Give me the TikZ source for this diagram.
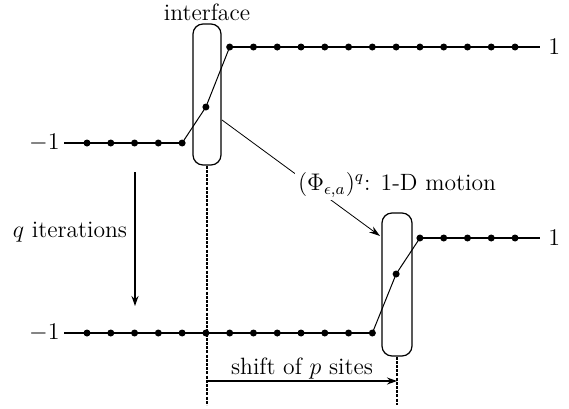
\documentclass[tikz,border=0pt]{standalone}
\usetikzlibrary{arrows.meta}
\begin{document}
\begin{tikzpicture}[x=0.5pt,y=-0.5pt,
  txt/.style={font=\fontsize{11.8}{14}\selectfont, inner sep=1pt},
  site/.style={circle, fill=black, inner sep=0pt, minimum size=3.5pt},
  thickline/.style={line width=1.2pt},
  thinline/.style={line width=0.5pt},
  iface/.style={draw, line width=0.6pt, rounded corners=5pt, inner sep=0pt},
  guide/.style={line width=0.7pt, dash pattern=on 1.5pt off 0.6pt},
  arr/.style={line width=0.7pt, -{Stealth[length=5pt,width=3.5pt]}},
  thinarr/.style={line width=0.4pt, -{Stealth[length=5.5pt,width=3.5pt]}}]
\useasboundingbox (0,0) rectangle (569,408);
% interface boxes
\node[iface, minimum width=14pt, minimum height=70.5pt] (box1) at (207,94.5) {};
\node[iface, minimum width=15pt, minimum height=71.5pt] (box2) at (397,284.5) {};
% top configuration
\coordinate (a-start) at (64,143);
\coordinate (a-end) at (540,47);
\foreach \i in {0,...,18}{
  \pgfmathsetmacro{\xx}{87+23.78*\i}
  \ifnum\i<5 \def\yy{143}\else\ifnum\i=5 \def\yy{107}\else\def\yy{47}\fi\fi
  \coordinate (a\i) at (\xx,\yy);
}
\draw[thickline] (a-start) -- (a4);
\draw[thinline] (a4) -- (a5) -- (a6);
\draw[thickline] (a6) -- (a-end);
\foreach \i in {0,...,18}{ \node[site] (ad\i) at (a\i) {}; }
% bottom configuration
\coordinate (b-start) at (64,333);
\coordinate (b-end) at (540,238);
\foreach \i in {0,...,18}{
  \pgfmathsetmacro{\xx}{87+23.78*\i}
  \ifnum\i<13 \def\yy{333}\else\ifnum\i=13 \def\yy{274}\else\def\yy{238}\fi\fi
  \coordinate (b\i) at (\xx,\yy);
}
\draw[thickline] (b-start) -- (b12);
\draw[thinline] (b12) -- (b13) -- (b14);
\draw[thickline] (b14) -- (b-end);
\foreach \i in {0,...,18}{ \node[site] (bd\i) at (b\i) {}; }
% labels
\node[txt, anchor=east, xshift=-1pt] (lm1) at (a-start) {$-1$};
\node[txt, anchor=west, xshift=3pt] (lp1) at (a-end) {$1$};
\node[txt, anchor=east, xshift=-1pt] (lm2) at (b-start) {$-1$};
\node[txt, anchor=west, xshift=3pt] (lp2) at (b-end) {$1$};
\node[txt] (ifl) at (207,12) {interface};
% guides
\coordinate (g1) at (207,405);
\coordinate (g2) at (397,405);
\draw[guide] (box1.south) -- (g1);
\draw[guide] (box2.south) -- (g2);
% motion arrow
\coordinate (m1) at (222,120);
\coordinate (m2) at (380,236);
\draw[thinarr] (m1) -- (m2);
\node[txt, fill=white, inner sep=1.5pt] (motion) at (397,185) {$(\Phi_{\epsilon,a})^q$: 1-D motion};
% iterations
\node[txt] (iter) at (70,232) {$q$ iterations};
\coordinate (i1) at (135,172);
\coordinate (i2) at (135,306);
\draw[arr] (i1) -- (i2);
% shift
\node[txt] (shift) at (302,369) {shift of $p$ sites};
\coordinate (s1) at (207,381);
\coordinate (s2) at (397,381);
\draw[arr] (s1) -- (s2);
\end{tikzpicture}
\end{document}
